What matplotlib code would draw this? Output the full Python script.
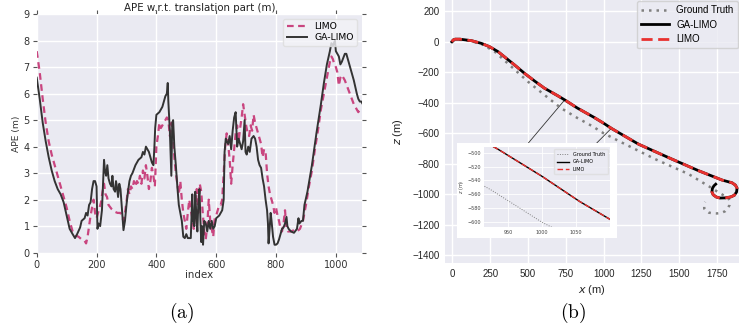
import numpy as np
import matplotlib
matplotlib.use("Agg")
import matplotlib.pyplot as plt
from matplotlib.patches import Rectangle, ConnectionPatch

# ---------------- data: (a) APE per index ----------------
ga_idx = [0, 10, 20, 30, 40, 50, 60, 70, 80, 90, 100, 110, 120, 128, 135, 145, 150, 160, 165, 170,
          175, 180, 185, 190, 195, 200, 203, 207, 212, 218, 222, 225, 228, 232, 236, 240, 245, 250,
          253, 257, 262, 265, 268, 272, 276, 280, 285, 290, 295, 300, 305, 310, 315, 320, 330, 340,
          350, 355, 360, 365, 370, 375, 380, 385, 390, 393, 396, 400, 410, 420, 425, 430, 435, 438,
          440, 445, 448, 450, 453, 456, 460, 465, 470, 475, 480, 485, 490, 495, 500, 505, 510, 515,
          518, 520, 523, 527, 530, 533, 537, 540, 544, 547, 550, 553, 556, 560, 565, 570, 575, 580,
          585, 590, 595, 600, 610, 620, 625, 628, 632, 635, 640, 645, 650, 655, 660, 665, 670, 675,
          680, 685, 690, 695, 698, 702, 707, 712, 718, 725, 730, 735, 740, 745, 750, 755, 760, 765,
          770, 773, 775, 778, 782, 785, 790, 795, 800, 805, 810, 815, 820, 825, 830, 835, 838, 842,
          850, 860, 870, 875, 878, 885, 890, 895, 905, 920, 935, 950, 960, 970, 980, 985, 990, 997,
          1000, 1005, 1010, 1015, 1020, 1030, 1035, 1040, 1050, 1060, 1070, 1075, 1080, 1085, 1090]
ga_ape = [6.6, 5.8, 4.9, 4.2, 3.6, 3.1, 2.7, 2.4, 2.2, 1.9, 1.4, 0.9, 0.7, 0.55, 0.7, 0.95, 1.2, 1.3, 1.5, 1.4,
          1.8, 1.9, 2.4, 2.7, 2.7, 2.5, 0.9, 1.1, 1.0, 1.6, 2.7, 3.5, 3.1, 2.9, 3.3, 2.8, 2.6, 2.5,
          2.9, 2.4, 2.3, 2.7, 2.5, 2.1, 2.6, 2.4, 1.6, 0.85, 1.2, 1.8, 2.3, 2.7, 2.9, 3.0, 3.3, 3.5,
          3.6, 3.8, 3.7, 4.0, 3.9, 3.8, 3.6, 3.4, 3.3, 3.9, 4.7, 5.2, 5.3, 5.5, 5.7, 5.9, 6.0, 6.4,
          5.7, 4.6, 3.5, 2.9, 4.9, 5.0, 4.0, 3.3, 2.5, 1.8, 1.5, 1.2, 0.6, 0.55, 0.7, 0.55, 0.55, 0.55,
          1.5, 2.2, 1.2, 1.0, 2.3, 1.5, 0.8, 1.8, 2.4, 1.3, 0.4, 1.0, 0.3, 1.2, 1.1, 0.8, 1.2, 0.9,
          1.2, 0.9, 1.0, 1.3, 1.4, 1.6, 2.0, 3.8, 4.3, 4.2, 4.1, 4.4, 3.9, 4.6, 5.1, 5.3, 4.0, 4.3,
          4.1, 3.9, 4.2, 5.0, 3.8, 3.7, 4.0, 3.8, 4.3, 4.4, 4.3, 4.0, 3.5, 3.3, 3.2, 2.8, 2.5, 2.0,
          1.6, 1.1, 0.35, 0.8, 1.5, 1.2, 0.6, 0.3, 0.3, 0.35, 0.5, 0.7, 0.9, 0.95, 1.1, 1.35, 1.0, 0.9,
          0.8, 0.75, 0.9, 1.3, 1.1, 1.2, 1.2, 1.8, 2.3, 3.3, 4.5, 5.6, 6.4, 7.1, 7.6, 7.9, 7.8, 8.0,
          7.6, 7.5, 7.4, 7.1, 7.2, 7.5, 7.5, 7.3, 6.9, 6.5, 6.0, 5.8, 5.7, 5.7, 5.6]

limo_idx = [0, 10, 20, 30, 40, 50, 60, 70, 80, 90, 100, 110, 120, 130, 140, 150, 160, 165, 170, 175,
            180, 185, 190, 195, 200, 205, 210, 215, 220, 225, 230, 235, 240, 250, 260, 270, 280, 290,
            295, 300, 305, 310, 315, 320, 325, 330, 335, 340, 345, 350, 355, 360, 365, 370, 375, 380,
            385, 390, 395, 400, 405, 410, 415, 420, 425, 430, 435, 440, 445, 450, 455, 460, 465, 470,
            475, 480, 485, 490, 495, 500, 505, 510, 515, 520, 525, 530, 535, 540, 545, 550, 555, 560,
            565, 570, 575, 580, 585, 590, 595, 600, 605, 610, 615, 620, 625, 630, 635, 640, 645, 650,
            655, 660, 665, 670, 675, 680, 685, 690, 695, 700, 705, 710, 715, 720, 725, 730, 735, 740,
            745, 750, 755, 760, 765, 770, 775, 780, 785, 790, 795, 800, 805, 810, 815, 820, 825, 830,
            835, 840, 850, 860, 870, 880, 890, 900, 910, 920, 930, 940, 950, 960, 970, 980, 985, 990,
            995, 1000, 1005, 1010, 1015, 1020, 1025, 1030, 1040, 1050, 1060, 1070, 1075, 1080, 1090]
limo_ape = [7.6, 6.8, 5.8, 4.9, 4.2, 3.7, 3.3, 2.9, 2.5, 2.1, 1.7, 1.2, 0.8, 0.65, 0.6, 0.5, 0.45, 0.35, 0.6, 1.0,
            1.4, 1.7, 2.0, 1.5, 1.3, 1.5, 1.7, 1.9, 2.3, 2.6, 2.2, 2.1, 1.8, 1.65, 1.55, 1.5, 1.5, 1.2,
            1.5, 1.9, 2.4, 2.2, 2.5, 2.4, 2.7, 2.5, 2.7, 2.6, 2.9, 2.6, 3.1, 2.8, 3.3, 2.9, 2.4, 2.7,
            3.2, 2.9, 2.5, 4.0, 4.4, 4.9, 4.7, 4.8, 4.9, 5.0, 5.1, 5.0, 4.4, 4.9, 4.6, 3.6, 3.0, 2.6,
            2.2, 2.7, 2.0, 1.5, 1.2, 0.9, 1.5, 2.0, 1.6, 1.3, 0.9, 1.6, 2.4, 1.5, 2.6, 2.3, 1.5, 0.8,
            0.5, 1.0, 2.0, 1.2, 0.9, 0.6, 1.3, 1.4, 1.6, 1.8, 1.8, 2.0, 3.0, 4.0, 4.5, 4.1, 3.5, 2.6,
            3.3, 3.9, 4.5, 4.8, 4.2, 4.7, 5.1, 5.6, 5.2, 4.8, 4.5, 4.4, 4.8, 4.6, 5.2, 4.9, 4.7, 4.5,
            4.3, 4.1, 3.6, 3.9, 3.8, 3.0, 2.5, 2.2, 2.0, 1.8, 1.5, 1.7, 1.4, 1.2, 0.9, 0.8, 1.1, 1.6,
            0.9, 0.8, 0.8, 0.85, 0.8, 0.9, 1.2, 1.8, 2.5, 3.1, 3.9, 4.6, 5.4, 6.0, 6.6, 7.2, 7.4, 7.3,
            7.1, 7.0, 6.8, 6.3, 6.6, 6.7, 6.6, 6.5, 6.2, 5.9, 5.6, 5.4, 5.3, 5.4, 5.4]

# ---------------- data: (b) trajectories ----------------
gt_x = [0, 18, 45, 120, 193, 280, 390, 499, 608, 718, 827, 926, 1000, 1121, 1342, 1563, 1700,
        1740, 1790, 1827, 1836, 1833, 1820, 1805, 1780, 1750, 1720, 1694, 1675, 1666, 1666, 1672]
gt_z = [0, 14, 14, 5, -15, -65, -163, -261, -348, -435, -500, -554, -600, -661, -770, -868, -950,
        -975, -1005, -1028, -1050, -1072, -1095, -1111, -1122, -1126, -1125, -1120, -1108, -1094,
        -1061, -1050]

ga_x = [-4, 5, 18, 50, 127, 193, 247, 302, 357, 411, 477, 543, 608, 700, 744, 827, 937, 1000,
        1055, 1232, 1453, 1629, 1784, 1850, 1872, 1883, 1880, 1865, 1840, 1806, 1770, 1745, 1725,
        1717, 1720, 1730, 1742]
ga_z = [0, 12, 17, 17, 7, -11, -33, -65, -109, -152, -207, -257, -304, -356, -382, -435, -496,
        -534, -570, -672, -770, -846, -907, -925, -940, -960, -985, -1007, -1018, -1024, -1025,
        -1018, -1003, -985, -962, -945, -934]
limo_x = [-4, 5, 18, 50, 127, 193, 247, 302, 357, 411, 477, 543, 608, 700, 744, 827, 937, 1000,
          1055, 1232, 1453, 1629, 1784, 1850, 1872, 1883, 1880, 1865, 1840, 1806, 1770, 1745, 1725,
          1717, 1720, 1728]
limo_z = [0, 12, 17, 17, 7, -11, -33, -65, -109, -152, -207, -257, -304, -356, -382, -435, -496,
          -534, -570, -672, -770, -846, -907, -925, -940, -960, -985, -1007, -1018, -1024, -1025,
          -1018, -1003, -985, -962, -948]

ape_xticks = [0, 200, 400, 600, 800, 1000]
ape_yticks = [0, 1, 2, 3, 4, 5, 6, 7, 8, 9]
traj_xticks = [0, 250, 500, 750, 1000, 1250, 1500, 1750]
traj_yticks = [200, 0, -200, -400, -600, -800, -1000, -1200, -1400]
inset_xticks = [950, 1000, 1050]
inset_yticks = [-500, -520, -540, -560, -580, -600]

BG = "#EAEAF2"
PINK = "#C9457F"
DARK = "#333333"

fig = plt.figure(figsize=(7.39, 3.31), dpi=100)

# ---------------- (a) ----------------
ax1 = fig.add_axes([0.0497, 0.2366, 0.440, 0.721])
ax1.set_facecolor(BG)
for s in ax1.spines.values():
    s.set_visible(False)
ax1.grid(True, color="white", linewidth=1.0)
ax1.set_axisbelow(True)
ax1.plot(limo_idx, limo_ape, color=PINK, linestyle=(0, (3, 2)), linewidth=1.6, label="LIMO")
ax1.plot(ga_idx, ga_ape, color=DARK, linewidth=1.4, label="GA-LIMO")
ax1.set_xlim(0, 1087)
ax1.set_ylim(0, 9)
ax1.set_xticks(ape_xticks)
ax1.set_yticks(ape_yticks)
ax1.tick_params(axis="both", which="both", direction="out", length=3, width=0.8, color="#555555",
                labelsize=7, labelcolor="#333333", top=True, right=True, pad=2)
ax1.set_title("APE w.r.t. translation part (m)", fontsize=7.4, color="#222222", pad=2)
ax1.set_xlabel("index", fontsize=7.4, color="#333333", labelpad=0)
ax1.set_ylabel("APE (m)", fontsize=6.6, color="#333333", labelpad=2)
leg1 = ax1.legend(loc="upper right", fontsize=6.7, frameon=True, handlelength=2.2,
                  borderpad=0.35, labelspacing=0.25)
leg1.get_frame().set_facecolor("#F2F2F7")
leg1.get_frame().set_edgecolor("#DDDDDD")

# ---------------- (b) ----------------
ax2 = fig.add_axes([0.602, 0.205, 0.398, 0.795])
ax2.set_facecolor(BG)
for s in ax2.spines.values():
    s.set_visible(False)
ax2.grid(True, color="white", linewidth=1.0)
ax2.set_axisbelow(True)
ax2.plot(gt_x, gt_z, color="#808080", linestyle=(0, (1, 2)), linewidth=1.8, label="Ground Truth",
         solid_joinstyle="round")
ax2.plot(ga_x, ga_z, color="black", linewidth=2.0, label="GA-LIMO", solid_joinstyle="round")
ax2.plot(limo_x, limo_z, color="#E8312F", linestyle=(0, (4, 2)), linewidth=2.0, label="LIMO",
         dash_joinstyle="round")
ax2.set_xlim(-50, 1896)
ax2.set_ylim(-1452, 274)
ax2.set_xticks(traj_xticks)
ax2.set_yticks(traj_yticks)
ax2.tick_params(axis="both", length=0, labelsize=7, labelcolor="#262626", pad=4)
for lbl in ax2.get_xticklabels() + ax2.get_yticklabels():
    lbl.set_fontfamily("Liberation Sans")
ax2.set_xlabel("$x$ (m)", fontsize=8, color="#262626", labelpad=3, fontfamily="Liberation Sans")
ax2.set_ylabel("$z$ (m)", fontsize=8, color="#262626", labelpad=5, fontfamily="Liberation Sans")
leg2 = ax2.legend(loc="upper right", prop={"family": "Liberation Sans", "size": 7}, frameon=True,
                  handlelength=2.8, borderpad=0.45, labelspacing=0.45, borderaxespad=0.1)
leg2.get_frame().set_facecolor(BG)
leg2.get_frame().set_edgecolor("#CCCCCC")

# connection lines (drawn under the inset box)
for (dx, dz), (fx, fy) in [((744, -380), (0.7150, 0.568)), ((1051, -568), (0.8075, 0.568))]:
    con = ConnectionPatch(xyA=(dx, dz), coordsA=ax2.transData, xyB=(fx, fy),
                          coordsB=fig.transFigure, color="#333333", linewidth=0.6)
    ax2.add_artist(con)

# white inset box
fig.add_artist(Rectangle((0.6184, 0.281), 0.2165, 0.287, transform=fig.transFigure,
                         facecolor="white", edgecolor="none", zorder=5))

ax3 = fig.add_axes([0.655, 0.314, 0.1705, 0.2417], zorder=6)
ax3.set_facecolor(BG)
for s in ax3.spines.values():
    s.set_visible(False)
ax3.grid(True, color="white", linewidth=0.6)
ax3.set_axisbelow(True)
ax3.plot(gt_x, gt_z, color="#808080", linestyle=(0, (1, 1.5)), linewidth=0.7, label="Ground Truth")
ax3.plot(ga_x, ga_z, color="black", linewidth=1.0, label="GA-LIMO")
ax3.plot(limo_x, limo_z, color="#E8312F", linestyle=(0, (4, 2)), linewidth=1.0, label="LIMO")
ax3.set_xlim(915, 1100)
ax3.set_ylim(-607, -492)
ax3.set_xticks(inset_xticks)
ax3.set_yticks(inset_yticks)
ax3.tick_params(axis="both", length=0, labelsize=3.5, labelcolor="#444444", pad=2)
ax3.set_ylabel("$z$ (m)", fontsize=3.5, color="#444444", labelpad=1)
leg3 = ax3.legend(loc="upper right", fontsize=3.5, frameon=True, handlelength=2.5,
                  borderpad=0.5, labelspacing=0.5)
leg3.get_frame().set_facecolor(BG)
leg3.get_frame().set_edgecolor("#DDDDDD")

# captions
fig.text(182 / 739, 1 - 313 / 331, r"$\mathrm{(a)}$", fontsize=14, ha="center", va="center",
         math_fontfamily="cm")
fig.text(573 / 739, 1 - 313 / 331, r"$\mathrm{(b)}$", fontsize=14, ha="center", va="center",
         math_fontfamily="cm")

fig.savefig("out.png", dpi=100)
